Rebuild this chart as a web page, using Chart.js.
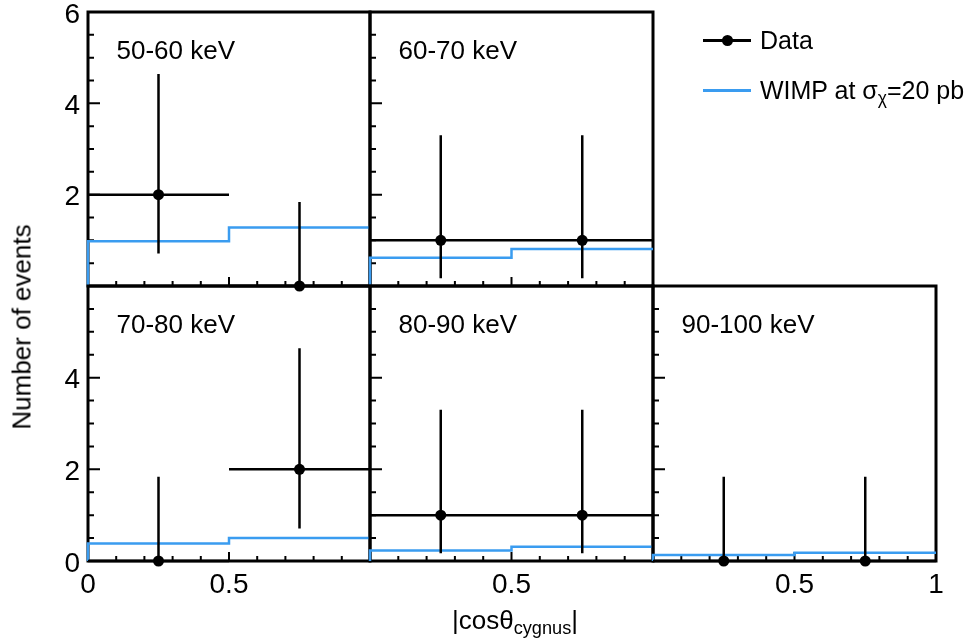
<!DOCTYPE html>
<html>
<head>
<meta charset="utf-8">
<script src="https://cdn.jsdelivr.net/npm/chart.js@4.4.0/dist/chart.umd.min.js"></script>
<style>
    body { margin: 0; background: #fff; width: 966px; height: 640px; position: relative; overflow: hidden;
           font-family: "Liberation Sans", Arial, Helvetica, sans-serif; color: #000; }
    canvas { position: absolute; left: 0; top: 0; }
    .ytitle { position: absolute; left: 22px; top: 327px; font-size: 26px; white-space: nowrap;
              transform: translate(-50%, -50%) rotate(-90deg); }
    .xtitle { position: absolute; left: 515px; top: 605px; font-size: 26px; white-space: nowrap;
              transform: translateX(-50%); }
    .xtitle sub, .legend sub { font-size: 0.7em; vertical-align: -0.3em; }
    .legend { position: absolute; left: 703px; top: 25px; font-size: 25px; }
    .legend .row { position: relative; height: 50px; }
    .legend .line { position: absolute; left: 0; width: 48px; top: 14px; height: 0; border-top: 3px solid #000; }
    .legend .dot { position: absolute; left: 19px; top: 10px; width: 11px; height: 11px; border-radius: 50%; background: #000; }
    .legend .label { position: absolute; left: 57px; top: 0; white-space: nowrap; line-height: 30px; }
</style>
</head>
<body>
<canvas id="p0" width="966" height="640"></canvas>
<canvas id="p1" width="966" height="640"></canvas>
<canvas id="p2" width="966" height="640"></canvas>
<canvas id="p3" width="966" height="640"></canvas>
<canvas id="p4" width="966" height="640"></canvas>

<div class="ytitle">Number of events</div>
<div class="xtitle">|cosθ<sub>cygnus</sub>|</div>
<div class="legend">
    <div class="row"><div class="line"></div><div class="dot"></div><div class="label">Data</div></div>
    <div class="row"><div class="line" style="border-color:#3a9cf0"></div><div class="label">WIMP at σ<sub>χ</sub>=20 pb</div></div>
</div>

<script>
// Recoil energy bins, one panel each
const panelLabels = ['50-60 keV', '60-70 keV', '70-80 keV', '80-90 keV', '90-100 keV'];

// |cos theta| binning
const binEdges = [0, 0.5, 1];
const binCenters = [0.25, 0.75];
const binHalfWidth = 0.25;

// Observed counts and Poisson error bars per panel
const dataCounts = [[2, 0], [1, 1], [0, 2], [1, 1], [0, 0]];
const errLow  = [[1.29, 0], [0.83, 0.83], [0, 1.29], [0.83, 0.83], [0, 0]];
const errHigh = [[2.64, 1.84], [2.30, 2.30], [1.84, 2.64], [2.30, 2.30], [1.84, 1.84]];

// Expected WIMP signal histogram per panel
const wimpCounts = [[0.98, 1.28], [0.62, 0.81], [0.38, 0.50], [0.23, 0.31], [0.13, 0.18]];

// Tick labels (left column / bottom row only)
const yTickLabels = [[2, 4, 6], [], [0, 2, 4], [], []];
const xTickLabels = [[], [], [0, 0.5], [0.5], [0.5, 1]];

const BLUE = '#3a9cf0';
const FONT = '"Liberation Sans", Arial, Helvetica, sans-serif';

// pad boxes for each panel's plotting area
const panelBoxes = [
    { l: 88,  t: 12,  r: 370, b: 286 },
    { l: 370, t: 12,  r: 653, b: 286 },
    { l: 88,  t: 286, r: 370, b: 561 },
    { l: 370, t: 286, r: 653, b: 561 },
    { l: 653, t: 286, r: 936, b: 561 }
];

const panelDecor = {
    id: 'panelDecor',
    beforeDatasetsDraw(chart) {
        // frame, inner ticks and labels go under the histogram
        const i = chart.options.plugins.panelDecor.panel;
        const ctx = chart.ctx;
        const xs = chart.scales.x, ys = chart.scales.y;
        const a = chart.chartArea;

        ctx.save();
        ctx.strokeStyle = '#000';
        ctx.lineWidth = 2;
        ctx.beginPath();
        for (let k = 0; k <= 12; k++) {
            const py = ys.getPixelForValue(k * 0.5);
            const len = (k % 4 === 0) ? 12 : 6;
            ctx.moveTo(a.left, py);
            ctx.lineTo(a.left + len, py);
        }
        for (let k = 0; k <= 10; k++) {
            const px = xs.getPixelForValue(k * 0.1);
            const len = (k % 5 === 0) ? 9 : 5;
            ctx.moveTo(px, a.bottom);
            ctx.lineTo(px, a.bottom - len);
        }
        ctx.stroke();

        ctx.lineWidth = 3;
        ctx.strokeRect(a.left, a.top, a.right - a.left, a.bottom - a.top);

        ctx.fillStyle = '#000';
        ctx.font = '28px ' + FONT;
        ctx.textAlign = 'right';
        ctx.textBaseline = 'alphabetic';
        yTickLabels[i].forEach(v => {
            ctx.fillText(String(v), a.left - 8, ys.getPixelForValue(v) + 10.5);
        });
        ctx.textAlign = 'center';
        xTickLabels[i].forEach(v => {
            ctx.fillText(String(v), xs.getPixelForValue(v), a.bottom + 32);
        });

        ctx.font = '26px ' + FONT;
        ctx.textAlign = 'left';
        ctx.fillText(panelLabels[i], a.left + 28.5, a.top + 47);
        ctx.restore();
    },
    afterDatasetDraw(chart, args) {
        // error bars right after the histogram, so markers end up on top
        if (args.index !== 1) return;
        const i = chart.options.plugins.panelDecor.panel;
        const ctx = chart.ctx;
        const xs = chart.scales.x, ys = chart.scales.y;

        ctx.save();
        ctx.strokeStyle = '#000';
        ctx.lineWidth = 2.5;
        ctx.beginPath();
        binCenters.forEach((x, j) => {
            const y = dataCounts[i][j];
            const px = xs.getPixelForValue(x);
            ctx.moveTo(px, ys.getPixelForValue(y - errLow[i][j]));
            ctx.lineTo(px, ys.getPixelForValue(y + errHigh[i][j]));
            const py = ys.getPixelForValue(y);
            ctx.moveTo(xs.getPixelForValue(x - binHalfWidth), py);
            ctx.lineTo(xs.getPixelForValue(x + binHalfWidth), py);
        });
        ctx.stroke();
        ctx.restore();
    }
};

function makePanel(i) {
    const box = panelBoxes[i];
    const w = wimpCounts[i];
    // step outline of the signal histogram, starting from the baseline
    const histPoints = [{ x: binEdges[0], y: 0 }];
    w.forEach((v, j) => histPoints.push({ x: binEdges[j], y: v }));
    histPoints.push({ x: binEdges[binEdges.length - 1], y: w[w.length - 1] });

    new Chart(document.getElementById('p' + i), {
        type: 'scatter',
        data: {
            datasets: [
                {
                    label: 'Data',
                    data: binCenters.map((x, j) => ({ x: x, y: dataCounts[i][j] })),
                    backgroundColor: '#000',
                    borderColor: '#000',
                    pointRadius: 5.5,
                    pointBorderWidth: 0,
                    showLine: false,
                    clip: false
                },
                {
                    type: 'line',
                    label: 'WIMP',
                    data: histPoints,
                    borderColor: BLUE,
                    borderWidth: 2.5,
                    stepped: 'before',
                    pointRadius: 0,
                    fill: false,
                    clip: 3
                }
            ]
        },
        options: {
            responsive: false,
            animation: false,
            events: [],
            layout: { padding: { left: box.l, top: box.t, right: 966 - box.r, bottom: 640 - box.b } },
            scales: {
                x: { type: 'linear', min: 0, max: 1, display: false },
                y: { type: 'linear', min: 0, max: 6, display: false }
            },
            plugins: {
                legend: { display: false },
                tooltip: { enabled: false },
                panelDecor: { panel: i }
            }
        },
        plugins: [panelDecor]
    });
}

for (let i = 0; i < panelLabels.length; i++) makePanel(i);
</script>
</body>
</html>
